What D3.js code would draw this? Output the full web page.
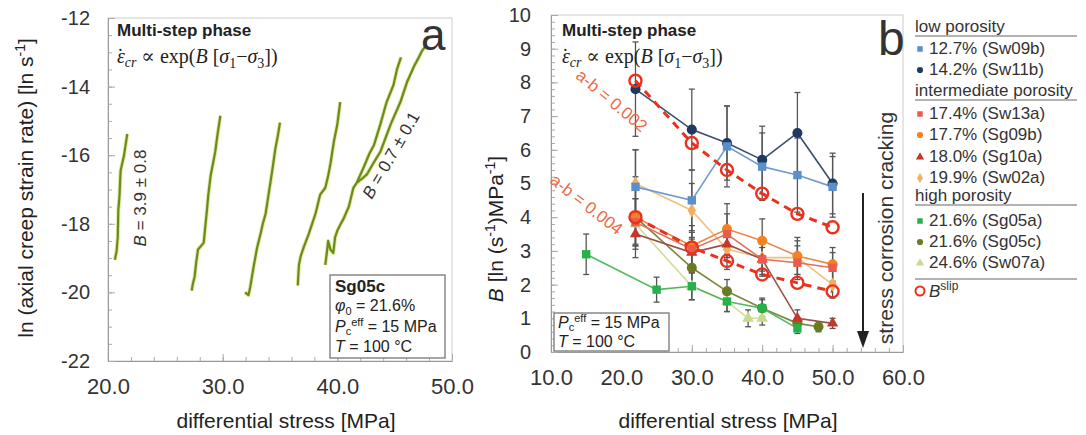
<!DOCTYPE html>
<html lang="en">
<head>
<meta charset="UTF-8">
<title>Multi-step creep: B versus differential stress</title>
<script src="https://d3js.org/d3.v7.min.js"></script>
<style>
  body { margin: 0; background: #fff; font-family: "Liberation Sans", Arial, sans-serif; }
  svg text { fill: #222; }
  .domain { stroke: #999; }
  .tick line { stroke: #aaa; }
  .tick text { fill: #333; font-family: "Liberation Sans", Arial, sans-serif; }
  .frame { fill: none; stroke: #ccc; }
</style>
</head>
<body>
<svg id="fig" width="1086" height="435"></svg>
<script>
// ---- panel a: creep strain rate curves, [differential stress, ln rate]
const creep1 = [[20.6,-19.05],[20.75,-18.8],[20.85,-18.4],[20.9,-17.6],[21.0,-17.2],[21.1,-16.45],[21.4,-16.0],[21.68,-15.38]];
const creep2 = [[27.3,-19.95],[27.4,-19.75],[27.55,-19.55],[27.7,-19.1],[27.85,-18.75],[28.1,-18.65],[28.35,-18.55],[28.45,-18.2],[28.6,-17.7],[28.75,-17.15],[28.95,-16.6],[29.15,-16.25],[29.35,-15.9],[29.55,-15.4],[29.8,-14.85]];
const creep3 = [[31.95,-20.0],[32.25,-20.08],[32.4,-19.85],[32.55,-19.55],[32.7,-19.25],[33.0,-18.7],[33.3,-18.3],[33.5,-18.0],[33.75,-17.7],[34.0,-17.15],[34.3,-16.5],[34.6,-15.8],[34.8,-15.45],[35.0,-15.05]];
const creep4 = [[36.55,-19.8],[36.65,-19.2],[36.8,-18.95],[37.05,-18.7],[37.5,-18.3],[37.8,-18.0],[38.1,-17.7],[38.5,-17.15],[38.95,-16.95],[39.2,-16.6],[39.4,-16.25],[39.7,-15.6],[40.0,-15.1],[40.25,-14.45]];
const creep5 = [[38.95,-19.2],[39.1,-18.8],[39.2,-18.5],[39.4,-18.75],[39.65,-18.85],[39.8,-18.4],[40.0,-18.2],[40.3,-18.0],[40.55,-17.85],[41.0,-17.5],[41.4,-16.95],[41.7,-16.8]];
const creep5a = [[41.7,-16.8],[42.3,-16.35],[42.8,-15.95],[43.2,-15.7],[43.75,-15.1],[44.3,-14.45],[44.9,-13.95],[45.2,-13.5],[45.55,-13.15]];
const creep5b = [[41.7,-16.8],[42.1,-16.7],[42.6,-16.55],[43.2,-16.2],[43.75,-15.9],[44.2,-15.5],[44.65,-15.1],[45.5,-14.45],[46.1,-13.85],[46.7,-13.4],[47.1,-13.15],[47.4,-12.95],[47.75,-12.8]];
const creepCurves = [creep1, creep2, creep3, creep4, creep5, creep5a, creep5b];

// ---- panel b: B per sample, [differential stress, B, error]
const sw09b = [[22,4.9,1.1],[30,4.5,0.9],[35,6.1,1.2],[40,5.5,1.0],[45,5.25,1.1],[50,4.9,0.9]];
const sw11b = [[22,7.8,1.4],[30,6.6,1.2],[35,6.2,1.1],[40,5.7,1.0],[45,6.5,1.2],[50,5.0,0.9]];
const sw13a = [[22,3.85,0.7],[30,3.05,0.5],[35,3.5,0.6],[40,2.75,0.5],[45,2.65,0.5],[50,2.5,0.45]];
const sg09b = [[22,4.0,1.2],[30,3.15,0.6],[35,3.65,0.75],[40,3.3,0.65],[45,2.85,0.55],[50,2.6,0.5]];
const sg10a = [[22,3.5,0.35],[30,2.95,0.4],[35,3.2,0.4],[40,2.75,0.35],[45,1.0,0.25],[50,0.85,0.15]];
const sw02a = [[22,5.0,1.0],[30,4.2,0.8],[35,3.05,0.6],[40,2.8,0.5],[45,2.8,0.5],[50,2.0,0.4]];
const sg05a = [[15,2.9,0.6],[25,1.85,0.37],[30,1.95,0.4],[35,1.5,0.3],[40,1.3,0.25],[45,0.7,0.15]];
const sg05c = [[22,4.0,0.8],[30,2.5,0.5],[35,1.8,0.35],[40,1.3,0.3],[45,0.85,0.17],[48,0.75,0.15]];
const sw07a = [[22,3.8,0.75],[30,1.95,0.4],[35,1.5,0.3],[38,1.0,0.25],[40,1.0,0.2]];
const bslipHigh = [[22,8.05],[30,6.2],[35,5.4],[40,4.7],[45,4.1],[50,3.7]];
const bslipLow = [[22,4.0],[30,3.1],[35,2.7],[40,2.3],[45,2.05],[50,1.8]];

const sampleLabels = ["12.7% (Sw09b)","14.2% (Sw11b)","17.4% (Sw13a)","17.7% (Sg09b)","18.0% (Sg10a)","19.9% (Sw02a)","21.6% (Sg05a)","21.6% (Sg05c)","24.6% (Sw07a)"];
const groupLabels = ["low porosity","intermediate porosity","high porosity"];

const series = [
  { data: sw09b, color: "#5b8fc9", line: "#6f9bd0", sym: d3.symbolSquare, size: 70 },
  { data: sw11b, color: "#1f3a60", line: "#3d4f6a", sym: d3.symbolCircle, size: 80 },
  { data: sw13a, color: "#ea5a4e", line: "#e07060", sym: d3.symbolSquare, size: 70 },
  { data: sg09b, color: "#f5821f", line: "#e8884a", sym: d3.symbolCircle, size: 80 },
  { data: sg10a, color: "#c0392b", line: "#9a5048", sym: d3.symbolTriangle, size: 55 },
  { data: sw02a, color: "#f4ae5e", line: "#f2c07a", sym: d3.symbolDiamond, size: 60 },
  { data: sg05a, color: "#25b24a", line: "#4fb85a", sym: d3.symbolSquare, size: 70 },
  { data: sg05c, color: "#6b7b1f", line: "#7b8540", sym: d3.symbolCircle, size: 80 },
  { data: sw07a, color: "#c6dc8c", line: "#d0dc9a", sym: d3.symbolTriangle, size: 60 }
];

const svg = d3.select("#fig");

// ---------- helpers
function axes(x, y, xMaj, xMin, yMaj, yMin, xFmt, yFmt, yPad) {
  const h = y.range()[0], l = x.range()[0];
  svg.append("rect").attr("class", "frame")
    .attr("x", l).attr("y", y.range()[1])
    .attr("width", x.range()[1] - l).attr("height", h - y.range()[1]);
  svg.append("g").attr("transform", `translate(0,${h})`)
    .call(d3.axisBottom(x).tickValues(xMin).tickFormat("").tickSize(-4).tickSizeOuter(0))
    .call(g => g.select(".domain").remove());
  svg.append("g").attr("transform", `translate(${l},0)`)
    .call(d3.axisLeft(y).tickValues(yMin).tickFormat("").tickSize(-4).tickSizeOuter(0))
    .call(g => g.select(".domain").remove());
  svg.append("g").attr("transform", `translate(0,${h})`)
    .call(d3.axisBottom(x).tickValues(xMaj).tickFormat(xFmt).tickSize(-7).tickSizeOuter(0).tickPadding(17))
    .call(g => g.selectAll(".tick text").style("font-size", "22px"));
  svg.append("g").attr("transform", `translate(${l},0)`)
    .call(d3.axisLeft(y).tickValues(yMaj).tickFormat(yFmt).tickSize(-7).tickSizeOuter(0).tickPadding(yPad))
    .call(g => g.selectAll(".tick text").style("font-size", "20px"));
}

function formula(x, y) {
  const t = svg.append("text").attr("x", x).attr("y", y)
    .style("font-family", "'Liberation Serif', 'DejaVu Serif', serif").style("font-size", "20px");
  t.append("tspan").style("font-style", "italic").text("\u03b5");
  t.append("tspan").attr("dx", -8).text("\u02d9");
  t.append("tspan").style("font-style", "italic").style("font-size", "14px").attr("dy", 4).attr("dx", 1).text("cr");
  t.append("tspan").attr("dy", -4).text(" \u221d exp(");
  t.append("tspan").style("font-style", "italic").text("B");
  t.append("tspan").text(" [");
  t.append("tspan").style("font-style", "italic").text("\u03c3");
  t.append("tspan").style("font-size", "14px").attr("dy", 5).text("1");
  t.append("tspan").attr("dy", -5).text("\u2212");
  t.append("tspan").style("font-style", "italic").text("\u03c3");
  t.append("tspan").style("font-size", "14px").attr("dy", 5).text("3");
  t.append("tspan").attr("dy", -5).text("])");
}

function pcLine(t, x) {
  t.append("tspan").attr("x", x).style("font-style", "italic").text("P");
  t.append("tspan").attr("dy", 3).style("font-size", "11px").text("c");
  t.append("tspan").attr("dy", -9).style("font-size", "11px").text("eff");
  t.append("tspan").attr("dy", 6).text(" = 15 MPa");
}

// ================= panel a
const xa = d3.scaleLinear().domain([20, 50]).range([108, 452]);
const ya = d3.scaleLinear().domain([-22, -12]).range([361, 18]);
axes(xa, ya, [20, 30, 40, 50], d3.range(20, 50.1, 2), d3.range(-22, -11.9, 2), d3.range(-22, -11.9, 0.5),
  d3.format(".1f"), d => d3.format("d")(d).replace("\u2212", "-"), 18);

const lineA = d3.line().x(d => xa(d[0])).y(d => ya(d[1]));
creepCurves.forEach(c => {
  svg.append("path").attr("d", lineA(c)).attr("fill", "none")
    .attr("stroke", "#e2ea9a").attr("stroke-width", 4).attr("stroke-linejoin", "round");
});
creepCurves.forEach(c => {
  svg.append("path").attr("d", lineA(c)).attr("fill", "none")
    .attr("stroke", "#6b8a1f").attr("stroke-width", 2.2).attr("stroke-linejoin", "round");
});

svg.append("text").attr("x", 117).attr("y", 36).style("font-weight", "bold").style("font-size", "17px").text("Multi-step phase");
formula(117, 63);
svg.append("text").attr("x", 421).attr("y", 50).style("font-size", "44px").style("fill", "#333").text("a");

const bA = svg.append("text").attr("transform", "translate(146,198) rotate(-90)")
  .attr("text-anchor", "middle").style("font-size", "17px").style("fill", "#333");
bA.append("tspan").style("font-style", "italic").text("B");
bA.append("tspan").text(" = 3.9 \u00b1 0.8");
const bB = svg.append("text").attr("transform", "translate(396,158) rotate(-60)")
  .attr("text-anchor", "middle").style("font-size", "17px").style("fill", "#333");
bB.append("tspan").style("font-style", "italic").text("B");
bB.append("tspan").text(" = 0.7 \u00b1 0.1");

svg.append("rect").attr("x", 330).attr("y", 275).attr("width", 115).attr("height", 83)
  .attr("fill", "#fff").attr("stroke", "#888").attr("stroke-width", 1.5);
svg.append("text").attr("x", 335).attr("y", 292).style("font-weight", "bold").style("font-size", "17px").text("Sg05c");
const phi = svg.append("text").attr("x", 335).attr("y", 311).style("font-size", "16px");
phi.append("tspan").style("font-style", "italic").text("\u03c6");
phi.append("tspan").attr("dy", 4).style("font-size", "11px").text("0");
phi.append("tspan").attr("dy", -4).text(" = 21.6%");
pcLine(svg.append("text").attr("x", 335).attr("y", 332).style("font-size", "16px"), 335);
const tA = svg.append("text").attr("x", 335).attr("y", 352).style("font-size", "16px");
tA.append("tspan").style("font-style", "italic").text("T");
tA.append("tspan").text(" = 100 \u00b0C");

svg.append("text").attr("x", 286).attr("y", 428).attr("text-anchor", "middle").style("font-size", "21px").text("differential stress [MPa]");
const yla = svg.append("text").attr("transform", "translate(33,188) rotate(-90)").attr("text-anchor", "middle").style("font-size", "21px");
yla.append("tspan").text("ln (axial creep strain rate) [ln s");
yla.append("tspan").attr("dy", -8).style("font-size", "14px").text("-1");
yla.append("tspan").attr("dy", 8).text("]");

// ================= panel b
const xb = d3.scaleLinear().domain([10, 60]).range([551, 903]);
const yb = d3.scaleLinear().domain([0, 10]).range([352, 15]);
axes(xb, yb, d3.range(10, 60.1, 10), d3.range(10, 60.1, 2), d3.range(0, 10.1, 1), d3.range(0, 10.01, 0.2),
  d3.format(".1f"), d3.format("d"), 20);

// error bars
series.forEach(s => {
  const g = svg.append("g").attr("stroke", "#555").attr("stroke-width", 1.3);
  s.data.forEach(d => {
    g.append("line").attr("x1", xb(d[0])).attr("x2", xb(d[0])).attr("y1", yb(d[1] - d[2])).attr("y2", yb(d[1] + d[2]));
    [d[1] - d[2], d[1] + d[2]].forEach(v => g.append("line")
      .attr("x1", xb(d[0]) - 3).attr("x2", xb(d[0]) + 3).attr("y1", yb(v)).attr("y2", yb(v)));
  });
});

const lineB = d3.line().x(d => xb(d[0])).y(d => yb(d[1]));
[...series].reverse().forEach(s => {
  svg.append("path").attr("d", lineB(s.data)).attr("fill", "none").attr("stroke", s.line).attr("stroke-width", 1.6);
});
[bslipHigh, bslipLow].forEach(b => {
  svg.append("path").attr("d", lineB(b)).attr("fill", "none").attr("stroke", "#e8321e")
    .attr("stroke-width", 3).attr("stroke-dasharray", "8,6");
});
[...series].reverse().forEach(s => {
  svg.append("g").selectAll("path").data(s.data).join("path")
    .attr("transform", d => `translate(${xb(d[0])},${yb(d[1])})`)
    .attr("d", d3.symbol(s.sym, s.size)).attr("fill", s.color);
});
[bslipHigh, bslipLow].forEach(b => {
  svg.append("g").selectAll("circle").data(b).join("circle")
    .attr("cx", d => xb(d[0])).attr("cy", d => yb(d[1])).attr("r", 6)
    .attr("fill", "none").attr("stroke", "#e8321e").attr("stroke-width", 2.4);
});

svg.append("text").attr("x", 562).attr("y", 36).style("font-weight", "bold").style("font-size", "17px").text("Multi-step phase");
formula(562, 63);
svg.append("text").attr("x", 878).attr("y", 55).style("font-size", "48px").style("fill", "#333").text("b");

svg.append("text").attr("transform", "translate(608,105) rotate(40)").attr("text-anchor", "middle")
  .style("font-size", "17px").style("fill", "#ee6a48").text("a-b = 0.002");
svg.append("text").attr("transform", "translate(583,209) rotate(38)").attr("text-anchor", "middle")
  .style("font-size", "17px").style("fill", "#ee6a48").text("a-b = 0.004");

svg.append("rect").attr("x", 554).attr("y", 313).attr("width", 115).attr("height", 38)
  .attr("fill", "#fff").attr("stroke", "#888").attr("stroke-width", 1.5);
pcLine(svg.append("text").attr("x", 558).attr("y", 328).style("font-size", "16px"), 558);
const tB = svg.append("text").attr("x", 558).attr("y", 347).style("font-size", "16px");
tB.append("tspan").style("font-style", "italic").text("T");
tB.append("tspan").text(" = 100 \u00b0C");

// arrow
svg.append("line").attr("x1", 863).attr("x2", 863).attr("y1", 193).attr("y2", 334).attr("stroke", "#222").attr("stroke-width", 2);
svg.append("path").attr("d", d3.line()([[857, 331], [869, 331], [863, 348]])).attr("fill", "#222");
svg.append("text").attr("transform", "translate(893,228) rotate(-90)").attr("text-anchor", "middle")
  .style("font-size", "21px").style("fill", "#333").text("stress corrosion cracking");

svg.append("text").attr("x", 728).attr("y", 428).attr("text-anchor", "middle").style("font-size", "21px").text("differential stress [MPa]");
const ylb = svg.append("text").attr("transform", "translate(503,229) rotate(-90)").attr("text-anchor", "middle").style("font-size", "21px");
ylb.append("tspan").style("font-style", "italic").text("B");
ylb.append("tspan").text(" [ln (s");
ylb.append("tspan").attr("dy", -8).style("font-size", "14px").text("-1");
ylb.append("tspan").attr("dy", 8).text(")MPa");
ylb.append("tspan").attr("dy", -8).style("font-size", "14px").text("-1");
ylb.append("tspan").attr("dy", 8).text("]");

// ================= legend
const lx = 915, lw = 162;
const legendRows = [
  { head: 0, y: 32 }, { item: 0, y: 54 }, { item: 1, y: 75 },
  { head: 1, y: 96 }, { item: 2, y: 119 }, { item: 3, y: 140 }, { item: 4, y: 162 }, { item: 5, y: 183 },
  { head: 2, y: 201 }, { item: 6, y: 226 }, { item: 7, y: 247 }, { item: 8, y: 268 }
];
legendRows.forEach(r => {
  if (r.head !== undefined) {
    svg.append("text").attr("x", lx).attr("y", r.y).style("font-size", "17px").style("fill", "#333").text(groupLabels[r.head]);
    svg.append("line").attr("x1", lx).attr("x2", lx + lw).attr("y1", r.y + 4).attr("y2", r.y + 4).attr("stroke", "#999").attr("stroke-width", 1.5);
  } else {
    const s = series[r.item];
    svg.append("path").attr("transform", `translate(${lx + 5},${r.y - 5})`)
      .attr("d", d3.symbol(s.sym, 30)).attr("fill", s.color);
    svg.append("text").attr("x", lx + 14).attr("y", r.y).style("font-size", "17px").style("fill", "#333").text(sampleLabels[r.item]);
  }
});
svg.append("line").attr("x1", lx).attr("x2", lx + lw).attr("y1", 279).attr("y2", 279).attr("stroke", "#999").attr("stroke-width", 1.5);
svg.append("circle").attr("cx", lx + 5).attr("cy", 291).attr("r", 4.5).attr("fill", "none").attr("stroke", "#e8321e").attr("stroke-width", 2);
const bs = svg.append("text").attr("x", lx + 14).attr("y", 297).style("font-size", "17px").style("fill", "#333");
bs.append("tspan").style("font-style", "italic").text("B");
bs.append("tspan").attr("dy", -7).style("font-size", "12px").text("slip");
</script>
</body>
</html>
